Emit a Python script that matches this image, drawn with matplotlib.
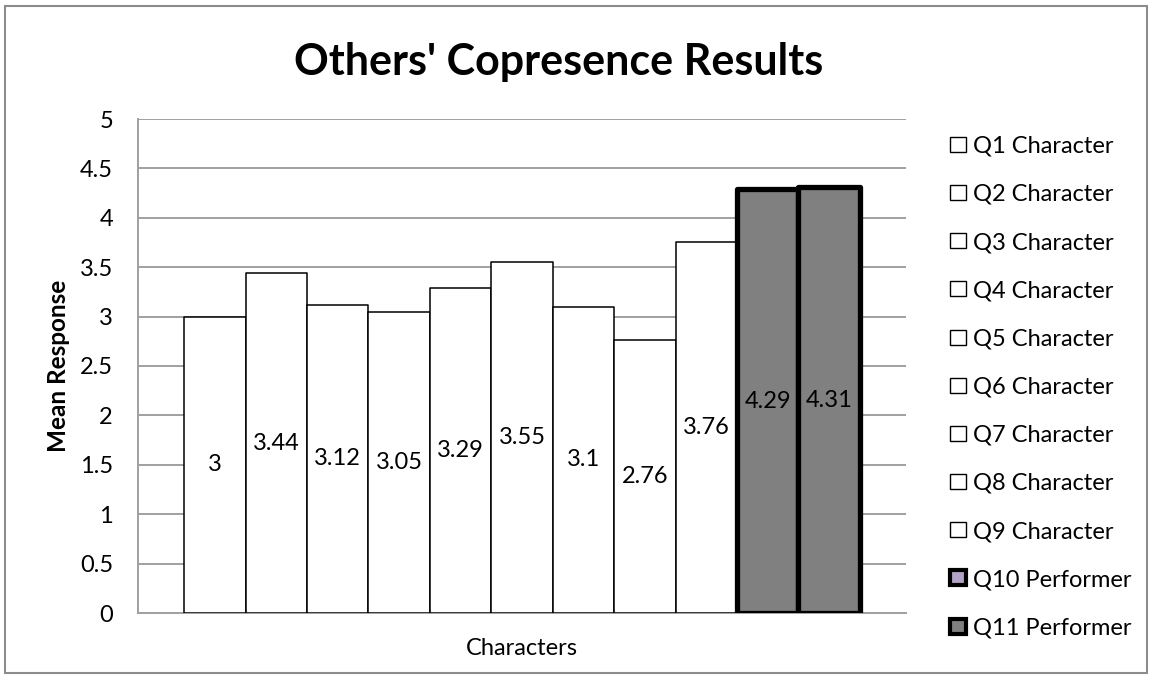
import matplotlib
matplotlib.use("Agg")
import matplotlib.pyplot as plt
from matplotlib.patches import Rectangle, Patch

plt.rcParams['font.family'] = ['Lato', 'DejaVu Sans']

series = ["Q1 Character", "Q2 Character", "Q3 Character", "Q4 Character",
          "Q5 Character", "Q6 Character", "Q7 Character", "Q8 Character",
          "Q9 Character", "Q10 Performer", "Q11 Performer"]
values = [3, 3.44, 3.12, 3.05, 3.29, 3.55, 3.1, 2.76, 3.76, 4.29, 4.31]
value_labels = ["3", "3.44", "3.12", "3.05", "3.29", "3.55", "3.1", "2.76",
                "3.76", "4.29", "4.31"]
yticks = [0, 0.5, 1, 1.5, 2, 2.5, 3, 3.5, 4, 4.5, 5]
ytick_labels = ["0", "0.5", "1", "1.5", "2", "2.5", "3", "3.5", "4", "4.5", "5"]

W, H = 1153, 679
fig = plt.figure(figsize=(W / 100, H / 100), dpi=100)
ax = fig.add_axes([138 / W, 1 - 613 / H, (906 - 138) / W, (613 - 119) / H])

face = ["white"] * 9 + ["#808080", "#808080"]
legend_face = ["white"] * 9 + ["#b3a2c7", "#808080"]
edge_w = [1.1] * 9 + [3.8, 3.8]
fs = 17

for i, (v, name) in enumerate(zip(values, series)):
    ax.bar(i, v, width=1.0, color=face[i], edgecolor="black",
           linewidth=edge_w[i], joinstyle="round", label=name, zorder=3)
    ax.text(i, v / 2, value_labels[i], ha="center", va="center",
            fontsize=fs, color="black", zorder=4)

ax.set_xlim(-1.25, 11.25)
ax.set_ylim(0, 5)
ax.set_yticks(yticks)
ax.set_yticklabels(ytick_labels, fontsize=fs)
ax.set_xticks([])
ax.tick_params(axis="y", length=0, pad=18)
ax.grid(axis="y", color="#a0a0a0", linewidth=1.4, zorder=0)
ax.set_axisbelow(True)
for side in ("top", "right"):
    ax.spines[side].set_visible(False)
for side in ("left", "bottom"):
    ax.spines[side].set_color("#a0a0a0")
    ax.spines[side].set_linewidth(1.4)

ax.set_ylabel("Mean Response", fontsize=17.5, fontweight="bold", labelpad=7)
ax.set_xlabel("Characters", fontsize=fs, labelpad=18)

fig.text(559 / W, 1 - 62 / H, "Others' Copresence Results", ha="center",
         va="center", fontsize=31, fontweight="bold")

handles = [Patch(facecolor=legend_face[i], edgecolor="black",
                 linewidth=1.0 if i < 9 else 3.0, joinstyle="round")
           for i in range(len(series))]
fig.legend(handles, series, loc="upper left",
           bbox_to_anchor=(938 / W, 1 - 124 / H), frameon=False,
           fontsize=fs, handlelength=0.68, handleheight=0.6,
           handletextpad=0.3, labelspacing=1.15, borderpad=0)

fig.patches.append(Rectangle((5 / W, 6 / H), (W - 11) / W, (H - 12) / H,
                             transform=fig.transFigure, fill=False,
                             edgecolor="#8c8c8c", linewidth=1.5))

fig.savefig("out.png", dpi=100)
